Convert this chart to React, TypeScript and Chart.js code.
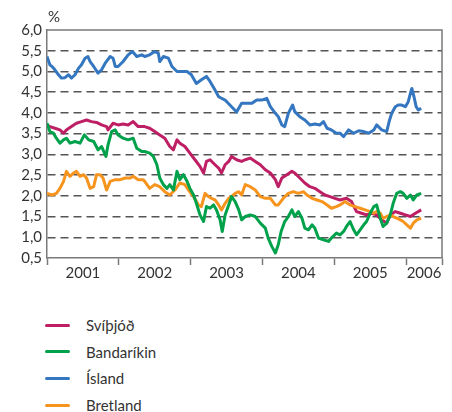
import React, { useEffect, useRef } from 'react';
import { Chart, registerables } from 'chart.js';

Chart.register(...registerables);

const unitLabel = '%';
const seriesNames = ['Svíþjóð', 'Bandaríkin', 'Ísland', 'Bretland'];
const seriesColors = ['#BE1E64', '#00A14B', '#3477C0', '#F7941D'];
const drawOrder = [2, 0, 3, 1];

const yMin = 0.5;
const yMax = 6.0;
const yStep = 0.5;

const yearLabels = ['2001', '2002', '2003', '2004', '2005', '2006'];
const yearLabelPositions = [2001.5, 2002.5, 2003.5, 2004.5, 2005.5, 2006.25];
const yearTickPositions = [2001, 2002, 2003, 2004, 2005, 2006, 2006.5];
const xMin = 2001;
const xMax = 2006.5;

// Svíþjóð
const svYears = [
  2001.00, 2001.04, 2001.11, 2001.18, 2001.23, 2001.27, 2001.34, 2001.41, 2001.48, 2001.55, 2001.62,
  2001.69, 2001.76, 2001.83, 2001.85, 2001.92, 2001.99, 2002.06, 2002.13, 2002.20, 2002.27, 2002.34,
  2002.36, 2002.43, 2002.50, 2002.57, 2002.64, 2002.71, 2002.76, 2002.81, 2002.85, 2002.92, 2002.99,
  2003.06, 2003.13, 2003.18, 2003.22, 2003.27, 2003.34, 2003.39, 2003.43, 2003.48, 2003.53, 2003.57,
  2003.64, 2003.71,
  2003.76, 2003.83, 2003.90, 2003.97, 2004.04, 2004.11, 2004.18, 2004.22, 2004.27, 2004.34, 2004.41,
  2004.45, 2004.52, 2004.59, 2004.66, 2004.73, 2004.80, 2004.87, 2004.94, 2005.01,
  2005.08, 2005.17, 2005.24, 2005.31, 2005.38, 2005.45, 2005.52, 2005.59, 2005.66, 2005.73, 2005.78,
  2005.85, 2005.92, 2005.99, 2006.06, 2006.13, 2006.21,
];
const svValues = [
  3.71, 3.67, 3.63, 3.59, 3.51, 3.59, 3.67, 3.75, 3.79, 3.83, 3.79,
  3.77, 3.71, 3.67, 3.59, 3.75, 3.71, 3.73, 3.71, 3.79, 3.67, 3.67,
  3.67, 3.63, 3.55, 3.47, 3.39, 3.19, 3.11, 3.35, 3.27, 3.19, 3.03,
  2.87, 2.71, 2.55, 2.83, 2.87, 2.75, 2.67, 2.55, 2.75, 2.83, 2.95,
  2.87, 2.83,
  2.87, 2.91, 2.83, 2.75, 2.63, 2.55, 2.39, 2.22, 2.43, 2.51, 2.59,
  2.55, 2.43, 2.31, 2.22, 2.18, 2.10, 2.02, 1.98, 1.94,
  1.90, 1.94, 1.86, 1.62, 1.58, 1.54, 1.58, 1.54, 1.42, 1.34, 1.54,
  1.62, 1.58, 1.54, 1.50, 1.58, 1.66,
];

// Bandaríkin
const baYears = [
  2001.00, 2001.04, 2001.09, 2001.13, 2001.18, 2001.23, 2001.27, 2001.32, 2001.39, 2001.46, 2001.52,
  2001.58, 2001.65, 2001.71, 2001.76, 2001.82, 2001.85, 2001.90, 2001.95, 2001.99, 2002.06, 2002.13,
  2002.20, 2002.25, 2002.32,
  2002.36, 2002.43, 2002.48, 2002.53, 2002.57, 2002.62, 2002.67, 2002.71, 2002.76, 2002.81, 2002.85,
  2002.90, 2002.95, 2002.99, 2003.04, 2003.08, 2003.13, 2003.18, 2003.22, 2003.27, 2003.32, 2003.36,
  2003.41, 2003.44, 2003.48, 2003.53, 2003.57, 2003.62, 2003.67, 2003.71,
  2003.76, 2003.83, 2003.90, 2003.97, 2004.04, 2004.08, 2004.13, 2004.18, 2004.22, 2004.26, 2004.31,
  2004.36, 2004.41, 2004.45, 2004.50, 2004.55, 2004.59, 2004.64, 2004.69, 2004.73, 2004.78, 2004.85,
  2004.92, 2004.96, 2005.03,
  2005.08, 2005.13, 2005.17, 2005.22, 2005.27, 2005.31, 2005.36, 2005.41, 2005.45, 2005.50, 2005.55,
  2005.59, 2005.64, 2005.68, 2005.73, 2005.78, 2005.82, 2005.87, 2005.92, 2005.96, 2006.01, 2006.06,
  2006.10, 2006.15, 2006.21,
];
const baValues = [
  3.75, 3.55, 3.51, 3.39, 3.27, 3.35, 3.39, 3.27, 3.31, 3.27, 3.47,
  3.35, 3.31, 3.11, 3.19, 2.95, 3.23, 3.55, 3.59, 3.47, 3.39, 3.35,
  3.39, 3.15, 3.07,
  3.07, 3.03, 2.95, 2.75, 2.43, 2.27, 2.18, 2.27, 2.14, 2.59, 2.39,
  2.51, 2.35, 2.18, 2.02, 1.82, 1.54, 1.38, 1.74, 1.70, 1.78, 1.66,
  1.42, 1.14, 1.54, 1.78, 1.98, 1.86, 1.66, 1.42,
  1.50, 1.54, 1.50, 1.34, 1.22, 0.98, 0.78, 0.62, 0.82, 1.14, 1.38,
  1.50, 1.66, 1.50, 1.62, 1.46, 1.22, 1.18, 1.30, 1.22, 0.98, 0.94,
  0.90, 0.98, 1.10,
  1.06, 1.14, 1.26, 1.38, 1.18, 1.06, 1.18, 1.30, 1.38, 1.58, 1.74,
  1.78, 1.46, 1.26, 1.34, 1.54, 1.82, 2.06, 2.10, 2.06, 1.94, 2.02,
  1.90, 2.02, 2.06,
];

// Ísland
const isYears = [
  2001.00, 2001.04, 2001.07, 2001.11, 2001.16, 2001.20, 2001.25, 2001.30, 2001.34, 2001.39, 2001.44,
  2001.48, 2001.53, 2001.57, 2001.60, 2001.65, 2001.71, 2001.76, 2001.81, 2001.88, 2001.92, 2001.95,
  2001.99, 2002.06, 2002.13, 2002.19, 2002.25, 2002.32,
  2002.36, 2002.43, 2002.50, 2002.55, 2002.57, 2002.62, 2002.69, 2002.74, 2002.81, 2002.88, 2002.95,
  2003.01, 2003.08, 2003.15, 2003.22, 2003.27, 2003.34, 2003.39, 2003.48, 2003.57, 2003.64, 2003.71,
  2003.76, 2003.85, 2003.92, 2003.99, 2004.06, 2004.11, 2004.18, 2004.22, 2004.27, 2004.31, 2004.36,
  2004.42, 2004.45, 2004.52, 2004.59, 2004.66, 2004.73, 2004.80, 2004.85, 2004.90, 2004.96, 2005.03,
  2005.08, 2005.13, 2005.20, 2005.27, 2005.34, 2005.41, 2005.48, 2005.55, 2005.59, 2005.66, 2005.73,
  2005.77, 2005.80, 2005.85, 2005.89, 2005.94, 2005.99, 2006.03, 2006.06, 2006.08, 2006.11, 2006.14,
  2006.17, 2006.21,
];
const isValues = [
  5.36, 5.16, 5.12, 5.04, 4.92, 4.84, 4.85, 4.92, 4.84, 4.92, 5.08,
  5.16, 5.32, 5.36, 5.24, 5.12, 4.96, 5.04, 5.20, 5.36, 5.32, 5.12,
  5.12, 5.24, 5.40, 5.48, 5.36, 5.40,
  5.36, 5.40, 5.48, 5.44, 5.24, 5.36, 5.32, 5.12, 5.00, 5.00, 5.00,
  4.92, 4.71, 4.80, 4.88, 4.76, 4.55, 4.39, 4.31, 4.15, 4.02, 4.23,
  4.23, 4.23, 4.31, 4.31, 4.35, 4.15, 3.99, 3.91, 3.71, 3.67, 3.99,
  4.19, 4.03, 3.91, 3.83, 3.71, 3.73, 3.71, 3.79, 3.63, 3.59, 3.51,
  3.51, 3.43, 3.59, 3.51, 3.57, 3.55, 3.51, 3.59, 3.71, 3.59, 3.55,
  3.83, 3.99, 4.15, 4.19, 4.19, 4.15, 4.27, 4.47, 4.59, 4.39, 4.15,
  4.07, 4.11,
];

// Bretland
const brYears = [
  2001.00, 2001.07, 2001.13, 2001.18, 2001.23, 2001.27, 2001.32, 2001.37, 2001.41, 2001.46, 2001.51,
  2001.55, 2001.60, 2001.65, 2001.69, 2001.74, 2001.78, 2001.83, 2001.88, 2001.95, 2002.02, 2002.09,
  2002.16, 2002.20, 2002.27, 2002.34,
  2002.36, 2002.43, 2002.50, 2002.57, 2002.64, 2002.71, 2002.78, 2002.85, 2002.92, 2002.97, 2003.04,
  2003.11, 2003.15, 2003.20, 2003.25, 2003.29, 2003.34, 2003.39, 2003.43, 2003.48, 2003.53, 2003.57,
  2003.62, 2003.67, 2003.71,
  2003.76, 2003.83, 2003.90, 2003.97, 2004.04, 2004.11, 2004.18, 2004.22, 2004.29, 2004.36, 2004.43,
  2004.50, 2004.57, 2004.62, 2004.69, 2004.76, 2004.83, 2004.90, 2004.96, 2005.03,
  2005.08, 2005.15, 2005.22, 2005.29, 2005.36, 2005.43, 2005.50, 2005.55, 2005.59, 2005.64, 2005.68,
  2005.73, 2005.78, 2005.82, 2005.87, 2005.92, 2005.96, 2006.01, 2006.06, 2006.10, 2006.15, 2006.21,
];
const brValues = [
  2.06, 2.02, 2.06, 2.18, 2.35, 2.59, 2.47, 2.55, 2.59, 2.47, 2.51,
  2.43, 2.18, 2.22, 2.51, 2.51, 2.43, 2.14, 2.35, 2.39, 2.39, 2.43,
  2.43, 2.47, 2.39, 2.39,
  2.35, 2.18, 2.27, 2.22, 2.10, 2.02, 2.14, 2.31, 2.27, 2.14, 1.98,
  1.78, 1.74, 2.06, 1.98, 1.94, 1.90, 1.78, 1.66, 1.82, 1.94, 1.98,
  2.06, 2.10, 2.02,
  2.27, 2.22, 2.14, 1.98, 1.94, 1.94, 1.78, 1.78, 1.94, 2.06, 2.10,
  2.06, 2.10, 2.02, 1.94, 1.90, 1.86, 1.78, 1.70, 1.74,
  1.78, 1.86, 1.78, 1.74, 1.70, 1.66, 1.62, 1.58, 1.62, 1.58, 1.46,
  1.50, 1.54, 1.50, 1.46, 1.42, 1.38, 1.30, 1.22, 1.34, 1.42, 1.46,
];

const seriesYears = [svYears, baYears, isYears, brYears];
const seriesValues = [svValues, baValues, isValues, brValues];

const FONT = 'Lato, "Open Sans", sans-serif';
const TEXT_COLOR = '#333333';
const AXIS_COLOR = '#7a7a7a';

const framePlugin = {
  id: 'frameAndUnit',
  beforeDatasetsDraw(chart: any) {
    const { ctx, chartArea: a } = chart;
    ctx.save();
    ctx.strokeStyle = AXIS_COLOR;
    ctx.lineWidth = 1.5;
    ctx.beginPath();
    ctx.moveTo(a.left, a.top);
    ctx.lineTo(a.right, a.top);
    ctx.lineTo(a.right, a.bottom);
    ctx.stroke();
    ctx.restore();
  },
  afterDraw(chart: any) {
    const { ctx, chartArea: a } = chart;
    ctx.save();
    ctx.fillStyle = TEXT_COLOR;
    ctx.font = '15px ' + FONT;
    ctx.textAlign = 'left';
    ctx.textBaseline = 'middle';
    ctx.fillText(unitLabel, a.left + 1, a.top - 13);
    ctx.restore();
  },
};

export default function App() {
  const canvasRef = useRef<HTMLCanvasElement | null>(null);

  useEffect(() => {
    if (!canvasRef.current) return;
    const datasets = seriesNames.map((name, i) => ({
      label: name,
      data: seriesYears[i].map((x, j) => ({ x, y: seriesValues[i][j] })),
      borderColor: seriesColors[i],
      backgroundColor: seriesColors[i],
      borderWidth: 3,
      pointRadius: 0,
      tension: 0,
      fill: false,
      order: drawOrder[i],
      borderJoinStyle: 'round' as const,
    }));

    const chart = new Chart(canvasRef.current, {
      type: 'line',
      data: { datasets },
      plugins: [framePlugin],
      options: {
        animation: false,
        responsive: true,
        maintainAspectRatio: false,
        layout: { padding: { top: 30, right: 10, left: 0, bottom: 0 } },
        plugins: {
          legend: { display: false },
          tooltip: { enabled: false },
          title: { display: false },
        },
        scales: {
          x: {
            type: 'linear',
            min: xMin,
            max: xMax,
            afterBuildTicks: (scale: any) => {
              const vals = [...yearTickPositions, ...yearLabelPositions].sort((a, b) => a - b);
              scale.ticks = vals.map((v) => ({ value: v }));
            },
            afterFit: (scale: any) => {
              scale.height = 42;
            },
            ticks: {
              autoSkip: false,
              maxRotation: 0,
              padding: -1,
              color: TEXT_COLOR,
              font: { family: FONT, size: 15 },
              callback: (value: any) => {
                const idx = yearLabelPositions.indexOf(Number(value));
                return idx >= 0 ? yearLabels[idx] : '';
              },
            },
            grid: {
              display: true,
              drawOnChartArea: false,
              drawTicks: true,
              tickLength: 7,
              tickWidth: 1.5,
              tickColor: (ctx: any) =>
                ctx.tick && yearTickPositions.includes(ctx.tick.value) ? AXIS_COLOR : 'rgba(0,0,0,0)',
            },
            border: { display: true, color: AXIS_COLOR, width: 1.5 },
          },
          y: {
            type: 'linear',
            min: yMin,
            max: yMax,
            afterFit: (scale: any) => {
              scale.width = 47;
            },
            ticks: {
              stepSize: yStep,
              autoSkip: false,
              maxTicksLimit: 30,
              padding: 5,
              color: TEXT_COLOR,
              font: { family: FONT, size: 15 },
              callback: (value: any) => Number(value).toFixed(1).replace('.', ','),
            },
            grid: {
              drawTicks: false,
              lineWidth: 1.5,
              color: (ctx: any) =>
                ctx.tick && (ctx.tick.value === yMin || ctx.tick.value === yMax) ? 'rgba(0,0,0,0)' : '#555555',
            },
            border: { display: true, color: AXIS_COLOR, width: 1.5, dash: [8, 5] },
          },
        },
      },
    });
    return () => chart.destroy();
  }, []);

  return (
    <div
      style={{
        position: 'fixed',
        left: 0,
        top: 0,
        width: 452,
        height: 412,
        overflow: 'hidden',
        background: '#ffffff',
        fontFamily: FONT,
      }}
    >
      <div style={{ position: 'absolute', left: 0, top: 0, width: 452, height: 300 }}>
        <canvas ref={canvasRef} />
      </div>
      {seriesNames.map((name, i) => (
        <div
          key={name}
          style={{ position: 'absolute', left: 0, top: 315 + i * 26.7, width: 452, height: 20 }}
        >
          <span
            style={{
              position: 'absolute',
              left: 45,
              top: 8.5,
              width: 25,
              height: 3,
              borderRadius: 1.5,
              background: seriesColors[i],
            }}
          />
          <span
            style={{
              position: 'absolute',
              left: 86,
              top: 0,
              lineHeight: '20px',
              fontSize: 15,
              color: TEXT_COLOR,
              whiteSpace: 'nowrap',
            }}
          >
            {name}
          </span>
        </div>
      ))}
    </div>
  );
}
